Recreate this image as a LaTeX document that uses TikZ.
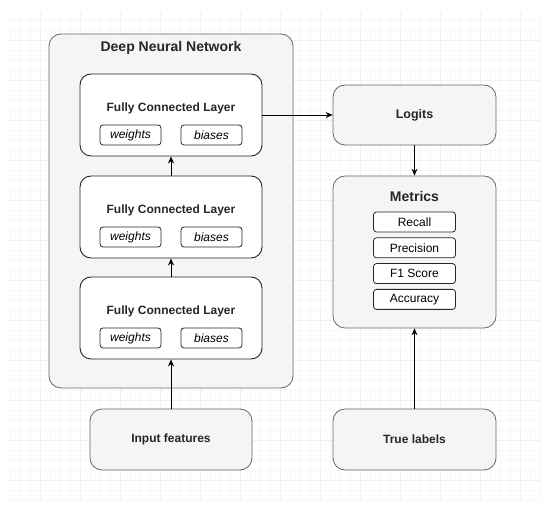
\documentclass[tikz,border=0pt]{standalone}
\usepackage{fontspec}
\setmainfont{Liberation Sans}
\usetikzlibrary{arrows.meta,positioning}

\begin{document}
\begin{tikzpicture}[x=1pt, y=-1pt, every node/.style={font=\fontsize{12}{14}\selectfont, inner sep=0pt},
  outer/.style={draw=black!60, fill=black!4, rounded corners=12pt, line width=0.8pt},
  layer/.style={draw=black!85, fill=white, rounded corners=11pt, line width=0.9pt, minimum width=182pt, minimum height=82pt},
  param/.style={draw=black!85, fill=white, rounded corners=3pt, line width=0.8pt, minimum width=61pt, minimum height=20pt, font=\fontsize{12}{14}\selectfont\itshape},
  metric/.style={draw=black!85, fill=white, rounded corners=3pt, line width=0.8pt, minimum width=82pt, minimum height=20pt},
  ttl/.style={font=\fontsize{12}{14}\selectfont\bfseries, text=black!85},
  arr/.style={-{Stealth[length=7pt,width=6pt]}, line width=0.8pt}]
\useasboundingbox (0,0) rectangle (550,510);
% background grid
\draw[black!3, line width=0.4pt, step=10pt] (8,12) grid (540,500);
\draw[black!6, line width=0.4pt, step=40pt] (8,12) grid (540,500);
% network
\node[outer, minimum width=244pt, minimum height=354pt] (dnn) at (171,211) {};
\node[ttl, font=\fontsize{14}{16}\selectfont\bfseries] (dnntitle) at (171,48) {Deep Neural Network};
\foreach \i/\y in {1/115, 2/217, 3/318} {
  \node[layer] (fc\i) at (171,\y) {};
  \node[ttl] (fc\i title) at (171,\y-7) {Fully Connected Layer};
  \node[param] (w\i) at (130.5,\y+20) {weights};
  \node[param] (b\i) at (211.5,\y+20) {biases};
}
\node[outer, minimum width=162pt, minimum height=61pt] (input) at (171,439.5) {};
\node[ttl] (inputtitle) at (input) {Input features};
% outputs
\node[outer, minimum width=163pt, minimum height=60pt] (logits) at (414.5,115) {};
\node[ttl, font=\fontsize{12.5}{14}\selectfont\bfseries] (logitstitle) at (logits) {Logits};
\node[outer, minimum width=163pt, minimum height=152pt] (metrics) at (414.5,252) {};
\node[ttl, font=\fontsize{14}{16}\selectfont\bfseries] (metricstitle) at (414.5,196) {Metrics};
\node[metric] (recall) at (414.5,222) {Recall};
\node[metric, below=5pt of recall] (precision) {Precision};
\node[metric, below=5pt of precision] (fone) {F1 Score};
\node[metric, below=5pt of fone] (accuracy) {Accuracy};
\node[outer, minimum width=163pt, minimum height=61pt] (truelab) at (414.5,439.5) {};
\node[ttl] (truetitle) at (truelab) {True labels};
% connectors
\draw[arr] (input) -- (fc3);
\draw[arr] (fc3) -- (fc2);
\draw[arr] (fc2) -- (fc1);
\draw[arr] (fc1) -- (logits);
\draw[arr] (logits) -- (metrics);
\draw[arr] (truelab) -- (metrics);
\end{tikzpicture}
\end{document}
